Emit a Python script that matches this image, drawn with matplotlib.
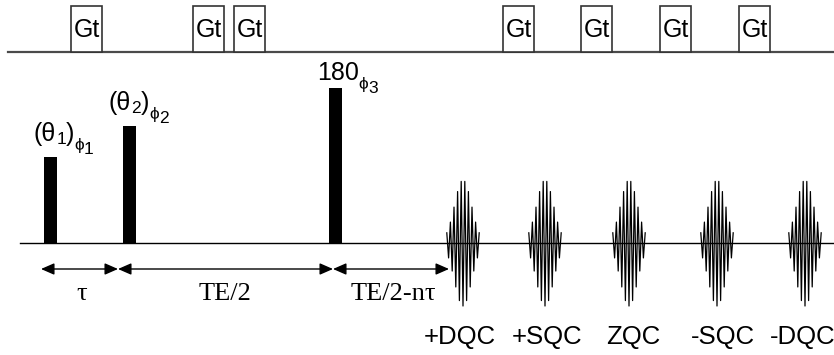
import matplotlib.pyplot as plt
import numpy as np
from matplotlib.patches import Rectangle
from matplotlib.transforms import offset_copy

# gradient blocks (left edge, px)
grad_x = [71, 193, 234, 503, 581, 660, 739]
grad_w = 31
grad_top = 6
grad_line = 52

# rf pulses
pulse_x = [44, 123, 329]
pulse_top = [157, 126, 88]
pulse_w = 13
# label pieces: (text, level) level 0 main, 1 sub, 2 phase, 3 phase index
pulse_labels = [
    [('(θ', 0), ('1', 1), (')', 0), ('ϕ', 2), ('1', 3)],
    [('(θ', 0), ('2', 1), (')', 0), ('ϕ', 2), ('2', 3)],
    [('180', 0), ('ϕ', 2), ('3', 3)],
]
label_pos = [(34, 141), (109, 110), (317, 80)]
base_y = 243

# timing arrows
arrow_pts = [(41, 118), (118, 333), (333, 449)]
arrow_y = 269
delay_labels = ['τ', 'TE/2', 'TE/2-nτ']
delay_x = [82, 225, 393]

# echoes
echo_x = [463, 545, 629, 717, 805]
echo_labels = ['+DQC', '+SQC', 'ZQC', '-SQC', '-DQC']
echo_lab_x = [460, 547, 633, 723, 803]


def echo_shape(c):
    t = np.arange(-16.2, 16.3, 1.8)
    sign = np.where(np.arange(t.size) % 2 == 0, 1, -1)
    y = 63 * np.exp(-(t / 12) ** 2) * sign
    return c + t, base_y - y


def chain_text(ax, x, y, pieces, fig):
    sizes = {0: 18, 1: 12.5, 2: 12.5, 3: 12.5}
    drops = {0: 0, 1: -2, 2: -6.5, 3: -9.5}
    renderer = fig.canvas.get_renderer()
    dx = 0
    for s, lvl in pieces:
        t = ax.text(x, y, s, ha='left', va='baseline', fontsize=sizes[lvl],
                    family=['Liberation Sans', 'DejaVu Sans'],
                    transform=offset_copy(ax.transData, fig=fig, x=dx,
                                          y=drops[lvl], units='points'))
        bb = t.get_window_extent(renderer=renderer)
        dx += bb.width * 72 / fig.dpi


fig = plt.figure(figsize=(8.34, 3.55), dpi=100)
ax = fig.add_axes([0, 0, 1, 1])
ax.set_xlim(0, 834)
ax.set_ylim(355, 0)
ax.axis('off')

# gradient channel
ax.plot([8, 834], [grad_line, grad_line], color='#4a4a4a', lw=1.6, zorder=1)
for gx in grad_x:
    ax.add_patch(Rectangle((gx, grad_top), grad_w, grad_line - grad_top,
                           facecolor='white', edgecolor='#333333', lw=1.2, zorder=2))
    ax.text(gx + grad_w / 2, 30, 'Gt', ha='center', va='center',
            fontsize=18, family='Liberation Sans', zorder=3)

# rf channel
ax.plot([20, 834], [base_y, base_y], color='black', lw=1.0, zorder=1)
for px, pt in zip(pulse_x, pulse_top):
    ax.add_patch(Rectangle((px, pt), pulse_w, base_y - pt, facecolor='black',
                           edgecolor='none', zorder=2))
for pieces, (lx, ly) in zip(pulse_labels, label_pos):
    chain_text(ax, lx, ly, pieces, fig)

for ex in echo_x:
    xs, ys = echo_shape(ex)
    ax.plot(xs, ys, color='black', lw=0.9, zorder=3)
for lab, lx in zip(echo_labels, echo_lab_x):
    ax.text(lx, 337, lab, ha='center', va='center', fontsize=18.5,
            family='Liberation Sans')

for (a, b) in arrow_pts:
    ax.annotate('', xy=(b, arrow_y), xytext=(a, arrow_y),
                arrowprops=dict(arrowstyle='<|-|>,head_length=0.8,head_width=0.35',
                                color='black', lw=1.0, shrinkA=0, shrinkB=0))
for lab, lx in zip(delay_labels, delay_x):
    ax.text(lx, 294, lab, ha='center', va='center', fontsize=19,
            family='Liberation Serif')

fig.savefig('out.png', dpi=100)
